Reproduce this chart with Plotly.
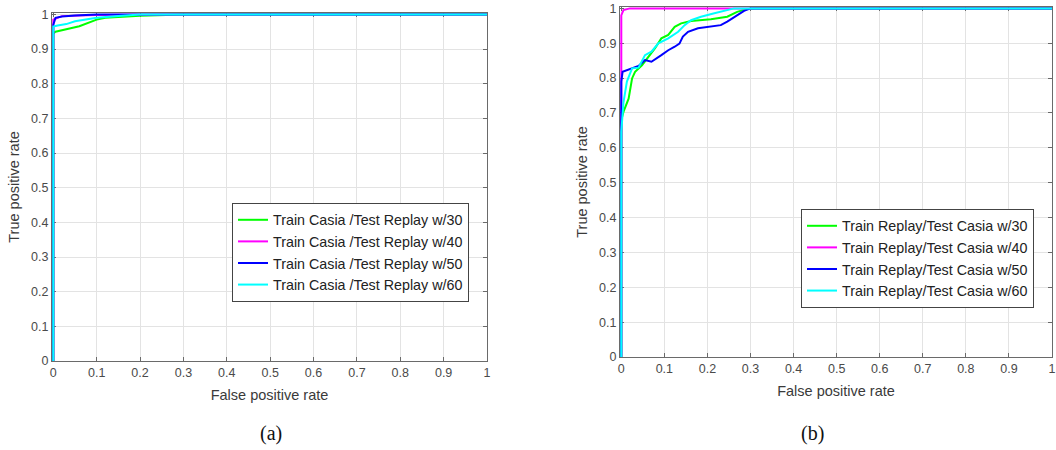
import plotly.graph_objects as go

# ---------------- data: panel (a) Train Casia / Test Replay ----------------
a_w30_fpr = [0, 0, 0.005, 0.02, 0.04, 0.06, 0.08, 0.10, 0.12, 0.15, 0.20, 0.30, 1.0]
a_w30_tpr = [0, 0.945, 0.950, 0.955, 0.960, 0.966, 0.975, 0.985, 0.990, 0.993, 0.996, 1.0, 1.0]
a_w40_fpr = [0, 0, 0.02, 0.10, 0.25, 1.0]
a_w40_tpr = [0, 0.985, 0.995, 0.998, 1.0, 1.0]
a_w50_fpr = [0, 0, 0.005, 0.02, 0.05, 0.10, 0.15, 1.0]
a_w50_tpr = [0, 0.970, 0.990, 0.994, 0.997, 1.0, 1.0, 1.0]
a_w60_fpr = [0, 0, 0.01, 0.03, 0.05, 0.08, 0.10, 0.15, 0.20, 1.0]
a_w60_tpr = [0, 0.965, 0.968, 0.972, 0.980, 0.985, 0.990, 0.995, 1.0, 1.0]

# ---------------- data: panel (b) Train Replay / Test Casia ----------------
b_w30_fpr = [0, 0, 0.005, 0.013, 0.017, 0.025, 0.032, 0.048, 0.063, 0.078, 0.093, 0.109,
             0.124, 0.139, 0.162, 0.208, 0.246, 0.269, 0.292, 0.31, 1.0]
b_w30_tpr = [0, 0.68, 0.703, 0.732, 0.741, 0.799, 0.818, 0.837, 0.861, 0.885, 0.914, 0.924,
             0.947, 0.957, 0.964, 0.969, 0.976, 0.990, 0.998, 1.0, 1.0]
b_w40_fpr = [0, 0, 0.005, 0.02, 1.0]
b_w40_tpr = [0, 0.98, 0.995, 1.0, 1.0]
b_w50_fpr = [0, 0, 0, 0.003, 0.024, 0.040, 0.055, 0.070, 0.093, 0.109, 0.124, 0.135, 0.143,
             0.155, 0.178, 0.208, 0.231, 0.246, 0.269, 0.285, 0.300, 1.0]
b_w50_tpr = [0, 0.674, 0.79, 0.818, 0.828, 0.835, 0.852, 0.847, 0.866, 0.880, 0.890, 0.899, 0.919,
             0.933, 0.943, 0.947, 0.952, 0.962, 0.981, 0.993, 1.0, 1.0]
b_w60_fpr = [0, 0, 0.005, 0.013, 0.025, 0.040, 0.055, 0.070, 0.086, 0.109, 0.132, 0.147,
             0.162, 0.185, 0.216, 0.246, 0.262, 1.0]
b_w60_tpr = [0, 0.646, 0.73, 0.79, 0.828, 0.83, 0.866, 0.876, 0.90, 0.914, 0.933, 0.952,
             0.966, 0.976, 0.986, 0.995, 1.0, 1.0]

labels_a = ["Train Casia /Test Replay w/30", "Train Casia /Test Replay w/40",
            "Train Casia /Test Replay w/50", "Train Casia /Test Replay w/60"]
labels_b = ["Train Replay/Test Casia w/30", "Train Replay/Test Casia w/40",
            "Train Replay/Test Casia w/50", "Train Replay/Test Casia w/60"]
colors = ["#00ff00", "#ff00ff", "#0000ff", "#00ffff"]
tick_vals = [0, 0.1, 0.2, 0.3, 0.4, 0.5, 0.6, 0.7, 0.8, 0.9, 1]
tick_text = ["0", "0.1", "0.2", "0.3", "0.4", "0.5", "0.6", "0.7", "0.8", "0.9", "1"]

W, H = 1056, 450


def px(x):
    return x / W


def py(y):
    return 1 - y / H


fig = go.Figure()

series_a = [(a_w30_fpr, a_w30_tpr), (a_w40_fpr, a_w40_tpr), (a_w50_fpr, a_w50_tpr), (a_w60_fpr, a_w60_tpr)]
series_b = [(b_w30_fpr, b_w30_tpr), (b_w40_fpr, b_w40_tpr), (b_w50_fpr, b_w50_tpr), (b_w60_fpr, b_w60_tpr)]

for (fx, fy), lab, col in zip(series_a, labels_a, colors):
    fig.add_trace(go.Scatter(x=fx, y=fy, mode="lines", name=lab, line=dict(color=col, width=2),
                             xaxis="x", yaxis="y", legend="legend"))
for (fx, fy), lab, col in zip(series_b, labels_b, colors):
    fig.add_trace(go.Scatter(x=fx, y=fy, mode="lines", name=lab, line=dict(color=col, width=2),
                             xaxis="x2", yaxis="y2", legend="legend2"))

font_fam = "Liberation Sans, Arial, sans-serif"
axis_common = dict(
    tickvals=tick_vals, ticktext=tick_text, showgrid=True, gridcolor="#e3e3e3", gridwidth=1,
    zeroline=False, showline=True, linecolor="#6a6a6a", linewidth=1, mirror="ticks",
    ticks="inside", ticklen=4, tickcolor="#6a6a6a",
    tickfont=dict(size=12.5, color="#4a4a4a", family=font_fam),
    layer="below traces", automargin=False,
)
title_font = dict(size=14.5, color="#3a3a3a", family=font_fam)
leg_font = dict(size=14.3, color="#222", family=font_fam)

fig.update_layout(
    width=W, height=H, margin=dict(l=0, r=0, t=0, b=0),
    paper_bgcolor="white", plot_bgcolor="white",
    font=dict(family=font_fam, color="#333"),
    xaxis=dict(domain=[px(52), px(487)], range=[-0.003, 1.0], anchor="y",
               title=dict(text="False positive rate", font=title_font, standoff=10),
               **axis_common),
    yaxis=dict(domain=[py(361), py(13)], range=[0, 1.004], anchor="x",
               title=dict(text="True positive rate", font=title_font, standoff=8),
               **axis_common),
    xaxis2=dict(domain=[px(620), px(1052)], range=[-0.003, 1.0], anchor="y2",
                title=dict(text="False positive rate", font=title_font, standoff=10),
                **axis_common),
    yaxis2=dict(domain=[py(357), py(7)], range=[0, 1.004], anchor="x2",
                title=dict(text="True positive rate", font=title_font, standoff=8),
                **axis_common),
    legend=dict(x=px(232), y=py(203), xanchor="left", yanchor="top", bgcolor="white",
                bordercolor="#444", borderwidth=1, font=leg_font,
                tracegroupgap=0, itemwidth=30),
    legend2=dict(x=px(801), y=py(209), xanchor="left", yanchor="top", bgcolor="white",
                 bordercolor="#444", borderwidth=1, font=leg_font,
                 tracegroupgap=0, itemwidth=30),
    showlegend=True,
)

cap_font = dict(family="Liberation Serif, Times New Roman, serif", size=20, color="#111")
fig.add_annotation(text="(a)", x=px(258), y=py(447), xref="paper", yref="paper",
                   yanchor="bottom", showarrow=False, font=cap_font)
fig.add_annotation(text="(b)", x=px(826), y=py(447), xref="paper", yref="paper",
                   yanchor="bottom", showarrow=False, font=cap_font)

# remove the default 8px page margin so the figure sits at the window's top-left corner
fig.write_html("out.html", config={"displayModeBar": False},
               post_script="document.body.style.margin='0';")
